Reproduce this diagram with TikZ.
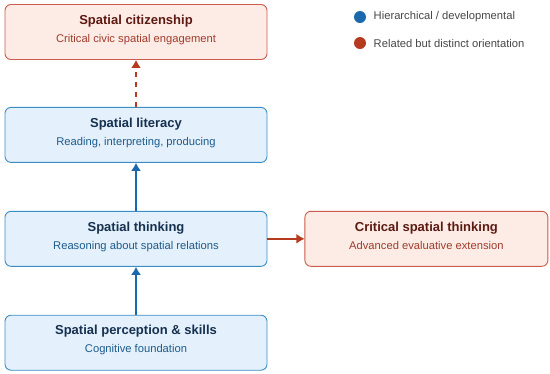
\documentclass[tikz,border=0pt]{standalone}
\usepackage{fontspec}
\setmainfont{Liberation Sans}
\usetikzlibrary{arrows.meta,positioning}
\definecolor{devblue}{HTML}{1B68AC}
\definecolor{devfill}{HTML}{E4F0FB}
\definecolor{devdraw}{HTML}{3C8DC5}
\definecolor{devtitle}{HTML}{16304F}
\definecolor{devsub}{HTML}{1D5C8C}
\definecolor{orired}{HTML}{B63A20}
\definecolor{orifill}{HTML}{FDECE6}
\definecolor{oridraw}{HTML}{CB5B4C}
\definecolor{orititle}{HTML}{5C1A12}
\definecolor{orisub}{HTML}{A03C2C}
\newcommand{\stagetext}[4]{{\fontsize{13}{15}\selectfont\bfseries\color{#1}#2}\\[6pt]{\fontsize{11.2}{13}\selectfont\color{#3}#4\rule[-7pt]{0pt}{1pt}}}

\begin{document}
\begin{tikzpicture}[
    x=1pt, y=-1pt,
    stage/.style={draw=devdraw, line width=0.9pt, rounded corners=6pt, align=center,
      minimum width=262pt, minimum height=55pt, fill=devfill, inner sep=0pt},
    orient/.style={stage, fill=orifill, draw=oridraw},
    devarrow/.style={-{Latex[length=8pt,width=10pt]}, line width=1.8pt, draw=devblue},
    oriarrow/.style={-{Latex[length=8pt,width=10pt]}, line width=1.8pt, draw=orired},
    legdot/.style={circle, minimum size=12pt, inner sep=0pt},
    legtext/.style={font=\fontsize{11.2}{13}\selectfont, text=black!72, anchor=west}
  ]
    \useasboundingbox (0,0) rectangle (550,373);

    \node[orient] (citizenship) at (136,32) {\stagetext{orititle}{Spatial citizenship}{orisub}{Critical civic spatial engagement}};
    \node[stage, below=47pt of citizenship] (literacy) {\stagetext{devtitle}{Spatial literacy}{devsub}{Reading, interpreting, producing}};
    \node[stage, below=48pt of literacy] (thinking) {\stagetext{devtitle}{Spatial thinking}{devsub}{Reasoning about spatial relations}};
    \node[stage, below=48pt of thinking] (perception) {\stagetext{devtitle}{Spatial perception \& skills}{devsub}{Cognitive foundation}};
    \node[orient, minimum width=243pt, right=37pt of thinking] (critical) {\stagetext{orititle}{Critical spatial thinking}{orisub}{Advanced evaluative extension}};

    % legend
    \node[legdot, fill=devblue] (devdot) at (360,17) {};
    \node[legtext, right=4pt of devdot] (devlabel) {Hierarchical / developmental};
    \node[legdot, fill=orired] (oridot) at (360,43) {};
    \node[legtext, right=4pt of oridot] (orilabel) {Related but distinct orientation};

    \draw[devarrow] (perception) -- (thinking);
    \draw[devarrow] (thinking) -- (literacy);
    \draw[oriarrow, dash pattern=on 5pt off 5pt] (literacy) -- (citizenship);
    \draw[oriarrow] (thinking) -- (critical);
  \end{tikzpicture}
\end{document}
